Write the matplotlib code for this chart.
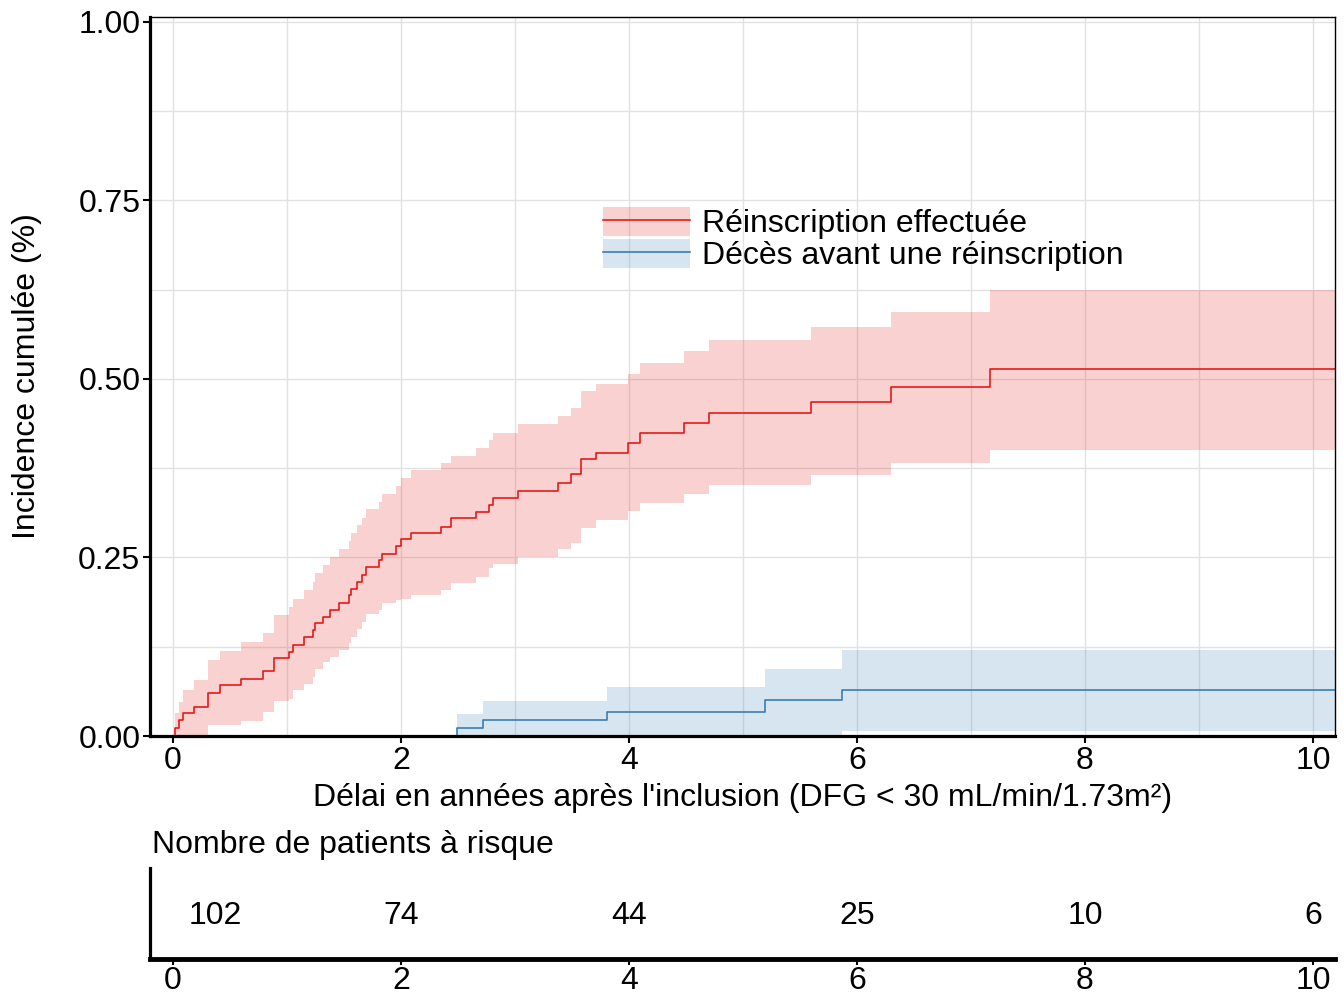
import matplotlib
matplotlib.use("Agg")
import matplotlib.pyplot as plt
from matplotlib.patches import Patch
from matplotlib.lines import Line2D
from matplotlib.ticker import MultipleLocator, FormatStrFormatter

plt.rcParams['font.family'] = ['Liberation Sans', 'DejaVu Sans']

# Réinscription effectuée : temps (années), incidence cumulée et IC 95 %
reinsc_t = [0.00, 0.02, 0.055, 0.09, 0.18, 0.31, 0.41, 0.60, 0.79, 0.89,
            1.02, 1.05, 1.15, 1.225, 1.245, 1.32, 1.38, 1.46, 1.54, 1.56,
            1.61, 1.66, 1.69, 1.81, 1.83, 1.96, 2.00, 2.09, 2.35, 2.44,
            2.66, 2.77, 2.81, 3.03, 3.38, 3.49, 3.58, 3.71, 3.99, 4.10,
            4.48, 4.70, 5.60, 6.30, 7.17]
reinsc_est = [0.000, 0.011, 0.022, 0.032, 0.041, 0.060, 0.071, 0.080, 0.091, 0.109,
              0.118, 0.128, 0.139, 0.149, 0.158, 0.167, 0.177, 0.186, 0.197, 0.206,
              0.216, 0.225, 0.236, 0.246, 0.255, 0.266, 0.276, 0.284, 0.293, 0.305,
              0.314, 0.323, 0.334, 0.343, 0.355, 0.367, 0.388, 0.397, 0.411, 0.425,
              0.439, 0.452, 0.468, 0.489, 0.514]
reinsc_lo = [0.000, 0.000, 0.000, 0.000, 0.000, 0.015, 0.015, 0.021, 0.034, 0.049,
             0.052, 0.065, 0.073, 0.083, 0.094, 0.104, 0.111, 0.120, 0.130, 0.139,
             0.150, 0.160, 0.171, 0.176, 0.186, 0.190, 0.192, 0.197, 0.205, 0.214,
             0.223, 0.235, 0.241, 0.250, 0.262, 0.271, 0.292, 0.302, 0.315, 0.326,
             0.339, 0.351, 0.365, 0.382, 0.401]
reinsc_hi = [0.000, 0.032, 0.048, 0.064, 0.078, 0.106, 0.119, 0.132, 0.144, 0.169,
             0.180, 0.192, 0.205, 0.216, 0.228, 0.239, 0.250, 0.262, 0.273, 0.284,
             0.295, 0.306, 0.318, 0.328, 0.339, 0.350, 0.362, 0.372, 0.382, 0.392,
             0.404, 0.414, 0.425, 0.437, 0.448, 0.460, 0.483, 0.493, 0.507, 0.522,
             0.539, 0.555, 0.573, 0.594, 0.625]

# Décès avant une réinscription
deces_t = [0.00, 2.49, 2.72, 3.81, 5.19, 5.87]
deces_est = [0.000, 0.011, 0.022, 0.033, 0.050, 0.065]
deces_lo = [0.000, 0.000, 0.000, 0.000, 0.000, 0.007]
deces_hi = [0.000, 0.031, 0.049, 0.068, 0.094, 0.121]

t_end = 10.2

# Nombre de patients à risque
risk_times = [0, 2, 4, 6, 8, 10]
risk_n = [102, 74, 44, 25, 10, 6]

red = '#E41A1C'
blue = '#377EB8'
fs = 23

fig = plt.figure(figsize=(13.44, 9.98), dpi=100)
ax = fig.add_axes([150 / 1344, 262 / 998, 1185 / 1344, 719 / 998])

series = [
    ("Réinscription effectuée", reinsc_t, reinsc_est, reinsc_lo, reinsc_hi, red),
    ("Décès avant une réinscription", deces_t, deces_est, deces_lo, deces_hi, blue),
]
handles, labels = [], []
for label, t, est, lo, hi, col in series:
    tt = t + [t_end]
    ax.fill_between(tt, lo + [lo[-1]], hi + [hi[-1]], step='post',
                    color=col, alpha=0.2, lw=0)
    ax.step(tt, est + [est[-1]], where='post', color=col, lw=1.2)
    handles.append((Patch(facecolor=col, alpha=0.2, lw=0),
                    Line2D([], [], color=col, lw=1.2)))
    labels.append(label)

ax.set_xlim(-0.2018, 10.193)
ax.set_ylim(0, 1.007)
ax.xaxis.set_major_locator(MultipleLocator(2))
ax.xaxis.set_minor_locator(MultipleLocator(1))
ax.yaxis.set_major_locator(MultipleLocator(0.25))
ax.yaxis.set_minor_locator(MultipleLocator(0.125))
ax.yaxis.set_major_formatter(FormatStrFormatter('%.2f'))
ax.set_axisbelow(True)
ax.grid(which='both', color='#E2E2E2', lw=1.0)
ax.tick_params(which='major', length=5, width=1.5, labelsize=fs, pad=2, colors='black')
ax.tick_params(which='minor', length=0)
for side in ['left', 'bottom']:
    ax.spines[side].set_linewidth(2.3)
for side in ['top', 'right']:
    ax.spines[side].set_linewidth(1.0)

ax.set_ylabel("Incidence cumulée (%)", fontsize=fs, labelpad=26)
ax.set_xlabel("Délai en années après l'inclusion (DFG < 30 mL/min/1.73m²)",
              fontsize=fs, labelpad=5)

ax.legend(handles, labels, loc='upper left',
          bbox_to_anchor=(603 / 1344, 1 - 207 / 998), bbox_transform=fig.transFigure,
          frameon=False, fontsize=fs, handlelength=2.72, handleheight=1.0,
          handletextpad=0.37, labelspacing=0.0, borderpad=0, borderaxespad=0)

# --- Tableau des patients à risque ---
ax2 = fig.add_axes([150 / 1344, 39 / 998, 1185 / 1344, 91 / 998])
ax2.set_xlim(-0.2018, 10.193)
ax2.set_ylim(0, 1)
ax2.set_yticks([])
ax2.set_xticks(risk_times)
ax2.tick_params(axis='x', length=4, width=1.5, labelsize=fs, pad=1)
ax2.spines['top'].set_visible(False)
ax2.spines['right'].set_visible(False)
ax2.spines['left'].set_linewidth(2.3)
ax2.spines['bottom'].set_linewidth(3.5)
for i, (t, n) in enumerate(zip(risk_times, risk_n)):
    if i == 0:
        ax2.annotate(str(n), (t, 0.47), xytext=(11, 0), textcoords='offset points',
                     ha='left', va='center', fontsize=fs)
    else:
        ax2.text(t, 0.47, str(n), ha='center', va='center', fontsize=fs)

fig.text(152 / 1344, 1 - 845 / 998, "Nombre de patients à risque",
         ha='left', va='center', fontsize=fs)

fig.savefig("out.png", dpi=100)
